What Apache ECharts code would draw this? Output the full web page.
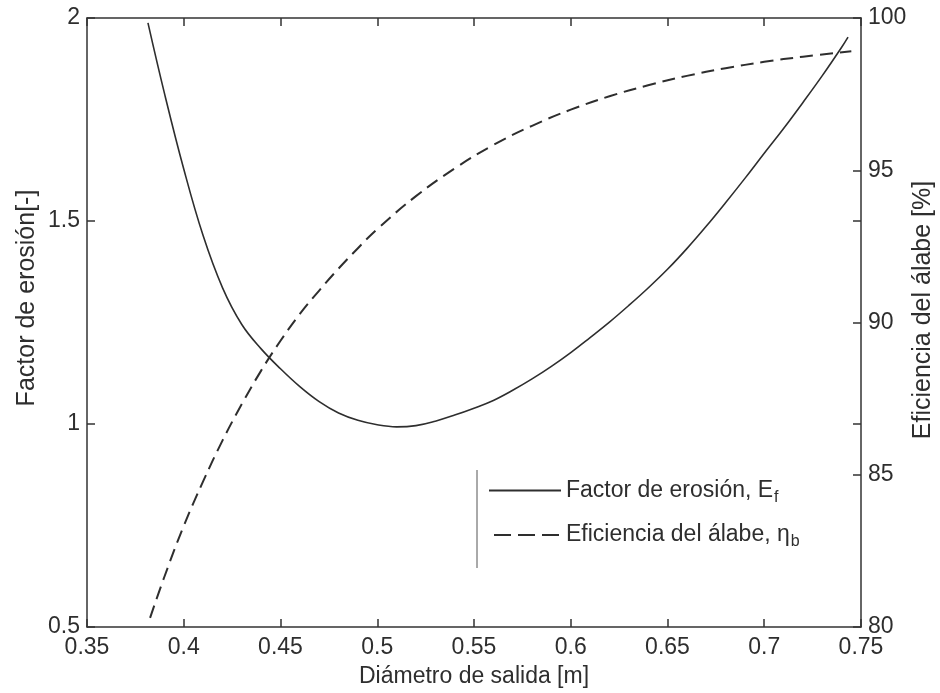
<!DOCTYPE html>
<html>
<head>
<meta charset="utf-8">
<title>Factor de erosión y eficiencia del álabe</title>
<script src="https://cdn.jsdelivr.net/npm/echarts@6/dist/echarts.min.js"></script>
<style>
  html, body { margin: 0; padding: 0; background: #ffffff; }
  #chart { width: 940px; height: 693px; }
</style>
</head>
<body>
<div id="chart"></div>
<script>
// Outlet diameter [m] and erosion factor [-]
const erosionX = [0.3815, 0.39, 0.40, 0.41, 0.42, 0.43, 0.44, 0.45, 0.46, 0.47,
                  0.48, 0.49, 0.50, 0.51, 0.52, 0.53, 0.54, 0.55, 0.56, 0.57,
                  0.58, 0.59, 0.60, 0.61, 0.62, 0.63, 0.64, 0.65, 0.66, 0.67,
                  0.68, 0.69, 0.70, 0.71, 0.72, 0.73, 0.74, 0.7433];
const erosionY = [1.988, 1.815, 1.628, 1.464, 1.336, 1.245, 1.185, 1.136, 1.092, 1.055,
                  1.027, 1.009, 0.998, 0.993, 0.996, 1.007, 1.022, 1.039, 1.058, 1.083,
                  1.111, 1.142, 1.176, 1.213, 1.251, 1.292, 1.335, 1.381, 1.432, 1.487,
                  1.545, 1.605, 1.667, 1.728, 1.792, 1.858, 1.928, 1.953];

// Outlet diameter [m] and blade efficiency [%]
const effX = [0.3826, 0.39, 0.40, 0.41, 0.42, 0.43, 0.44, 0.45, 0.46, 0.47,
              0.48, 0.49, 0.50, 0.52, 0.54, 0.56, 0.58, 0.60, 0.62, 0.64,
              0.66, 0.68, 0.70, 0.72, 0.745];
const effY = [80.30, 81.65, 83.32, 84.78, 86.12, 87.32, 88.42, 89.40, 90.28, 91.05,
              91.77, 92.44, 93.07, 94.15, 95.06, 95.83, 96.46, 96.99, 97.43, 97.79,
              98.10, 98.35, 98.56, 98.73, 98.91];

// Axis tick values
const xTicks = [0.35, 0.4, 0.45, 0.5, 0.55, 0.6, 0.65, 0.7, 0.75];
const leftTicks = [0.5, 1, 1.5, 2];
const rightTicks = [80, 85, 90, 95, 100];

const seriesNames = ['Factor de erosión, E', 'Eficiencia del álabe, η'];
const seriesSubs = ['f', 'b'];
const xName = 'Diámetro de salida [m]';
const leftName = 'Factor de erosión[-]';
const rightName = 'Eficiencia del álabe [%]';

const FONT = '"Liberation Sans", Arial, sans-serif';
const INK = '#2e2e2e';
const AXIS = { lineStyle: { color: '#333', width: 1.5 } };
const TICK_IN = { show: true, inside: true, length: 8, lineStyle: { color: '#333', width: 1.5 } };

const fmt = v => String(parseFloat(Number(v).toFixed(2)));

function pairs(xs, ys) { return xs.map((x, i) => [x, ys[i]]); }

const chart = echarts.init(document.getElementById('chart'), null, { renderer: 'canvas' });

chart.setOption({
  backgroundColor: '#ffffff',
  animation: false,
  grid: { left: 87, right: 79, top: 18, bottom: 66, containLabel: false },
  legend: {
    left: 488,
    top: 479,
    orient: 'vertical',
    padding: 0,
    itemGap: 18,
    itemWidth: 72,
    itemHeight: 14,
    data: [
      { name: seriesNames[0] },
      { name: seriesNames[1], lineStyle: { type: [17, 7], dashOffset: 19 } }
    ],
    itemStyle: { opacity: 0 },
    formatter: name => {
      const i = seriesNames.indexOf(name);
      return '{n|' + name + '}{s|' + seriesSubs[i] + '}';
    },
    textStyle: {
      color: INK,
      fontFamily: FONT,
      rich: {
        n: { fontSize: 23, fontFamily: FONT, color: INK, verticalAlign: 'middle' },
        s: { fontSize: 16, fontFamily: FONT, color: INK, padding: [14, 0, 0, 1] }
      }
    }
  },
  xAxis: [
    {
      type: 'value',
      position: 'bottom',
      min: xTicks[0],
      max: xTicks[xTicks.length - 1],
      interval: 0.05,
      name: xName,
      nameLocation: 'middle',
      nameGap: 38,
      nameTextStyle: { fontSize: 23, fontFamily: FONT, color: INK },
      axisLine: { show: true, onZero: false, ...AXIS },
      axisTick: TICK_IN,
      axisLabel: { fontSize: 23, fontFamily: FONT, color: INK, margin: 9, formatter: fmt },
      splitLine: { show: false }
    },
    {
      type: 'value',
      position: 'top',
      min: xTicks[0],
      max: xTicks[xTicks.length - 1],
      interval: 0.05,
      axisLine: { show: true, onZero: false, ...AXIS },
      axisTick: TICK_IN,
      axisLabel: { show: false },
      splitLine: { show: false }
    }
  ],
  yAxis: [
    {
      type: 'value',
      position: 'left',
      min: leftTicks[0],
      max: leftTicks[leftTicks.length - 1],
      interval: 0.5,
      axisLine: { show: true, onZero: false, ...AXIS },
      axisTick: TICK_IN,
      axisLabel: { fontSize: 23, fontFamily: FONT, color: INK, margin: 7, formatter: fmt },
      splitLine: { show: false }
    },
    {
      type: 'value',
      position: 'right',
      min: rightTicks[0],
      max: rightTicks[rightTicks.length - 1],
      interval: 5,
      axisLine: { show: true, onZero: false, ...AXIS },
      axisTick: TICK_IN,
      axisLabel: { fontSize: 23, fontFamily: FONT, color: INK, margin: 7 },
      splitLine: { show: false }
    },
    {
      // left-scale ticks mirrored on the right edge
      type: 'value',
      position: 'right',
      min: leftTicks[0],
      max: leftTicks[leftTicks.length - 1],
      interval: 0.5,
      axisLine: { show: false },
      axisTick: TICK_IN,
      axisLabel: { show: false },
      splitLine: { show: false }
    }
  ],
  series: [
    {
      name: seriesNames[0],
      type: 'line',
      xAxisIndex: 0,
      yAxisIndex: 0,
      data: pairs(erosionX, erosionY),
      smooth: 0.4,
      symbol: 'none',
      lineStyle: { color: INK, width: 1.6, type: 'solid' },
      itemStyle: { color: INK }
    },
    {
      name: seriesNames[1],
      type: 'line',
      xAxisIndex: 0,
      yAxisIndex: 1,
      data: pairs(effX, effY),
      smooth: 0.4,
      symbol: 'none',
      lineStyle: { color: INK, width: 2, type: [13, 7] },
      itemStyle: { color: INK }
    }
  ],
  graphic: [
    {
      type: 'text',
      x: 27, y: 298,
      rotation: Math.PI / 2,
      style: { text: leftName, fill: INK, fontSize: 25, fontFamily: FONT, align: 'center', verticalAlign: 'middle' }
    },
    {
      type: 'text',
      x: 923, y: 310,
      rotation: Math.PI / 2,
      style: { text: rightName, fill: INK, fontSize: 25, fontFamily: FONT, align: 'center', verticalAlign: 'middle' }
    },
    {
      // left edge of the legend frame
      type: 'line',
      shape: { x1: 477, y1: 470, x2: 477, y2: 568 },
      style: { stroke: '#555', lineWidth: 1 }
    }
  ]
});
</script>
</body>
</html>
